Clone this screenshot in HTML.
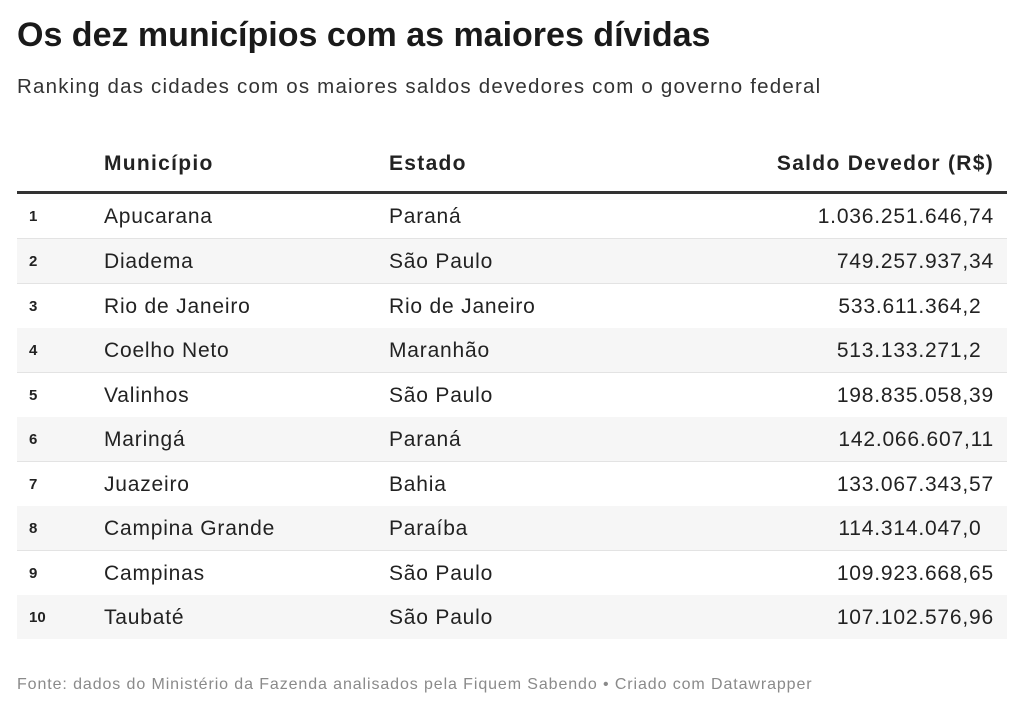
<!DOCTYPE html>
<html><head><meta charset="utf-8"><style>
body{margin:0;width:1024px;height:710px;background:#fff;font-family:"Liberation Sans",sans-serif;color:#222;position:relative;overflow:hidden}
.t{position:absolute;left:17px;top:16px;font-size:34px;font-weight:bold;color:#1a1a1a;letter-spacing:0px}
.s{position:absolute;left:17px;top:75px;font-size:20.5px;color:#333;letter-spacing:1.2px}
.hd{position:absolute;top:152px;font-size:21px;font-weight:bold;color:#222;letter-spacing:1.3px}
.line{position:absolute;left:17px;width:990px;top:191px;height:3px;background:#333}
.row{position:absolute;left:17px;width:990px;height:44px;border-bottom:1px solid #e3e3e3;font-size:21px;color:#222;letter-spacing:0.8px}
.row.g{background:#f6f6f6}
.row span{position:absolute;top:11px}
.n{left:12px;font-size:15px;font-weight:bold;top:14px!important;letter-spacing:0}
.m{left:87px}.e{left:372px}.v{right:13px}
.h{visibility:hidden}
.f{position:absolute;left:17px;top:676px;font-size:16px;color:#8a8a8a;letter-spacing:0.9px}
</style></head><body>
<div class="t">Os dez municípios com as maiores dívidas</div>
<div class="s">Ranking das cidades com os maiores saldos devedores com o governo federal</div>
<div class="hd" style="left:104px">Município</div>
<div class="hd" style="left:389px">Estado</div>
<div class="hd" style="right:30px">Saldo Devedor (R$)</div>
<div class="line"></div>
<div class="row" style="top:194px"><span class="n">1</span><span class="m">Apucarana</span><span class="e">Paraná</span><span class="v">1.036.251.646,74</span></div>
<div class="row g" style="top:239px"><span class="n">2</span><span class="m">Diadema</span><span class="e">São Paulo</span><span class="v">749.257.937,34</span></div>
<div class="row" style="top:284px"><span class="n">3</span><span class="m">Rio de Janeiro</span><span class="e">Rio de Janeiro</span><span class="v">533.611.364,2<i class="h">0</i></span></div>
<div class="row g" style="top:328px"><span class="n">4</span><span class="m">Coelho Neto</span><span class="e">Maranhão</span><span class="v">513.133.271,2<i class="h">0</i></span></div>
<div class="row" style="top:373px"><span class="n">5</span><span class="m">Valinhos</span><span class="e">São Paulo</span><span class="v">198.835.058,39</span></div>
<div class="row g" style="top:417px"><span class="n">6</span><span class="m">Maringá</span><span class="e">Paraná</span><span class="v">142.066.607,11</span></div>
<div class="row" style="top:462px"><span class="n">7</span><span class="m">Juazeiro</span><span class="e">Bahia</span><span class="v">133.067.343,57</span></div>
<div class="row g" style="top:506px"><span class="n">8</span><span class="m">Campina Grande</span><span class="e">Paraíba</span><span class="v">114.314.047,0<i class="h">0</i></span></div>
<div class="row" style="top:551px"><span class="n">9</span><span class="m">Campinas</span><span class="e">São Paulo</span><span class="v">109.923.668,65</span></div>
<div class="row g" style="top:595px;border-bottom:none"><span class="n">10</span><span class="m">Taubaté</span><span class="e">São Paulo</span><span class="v">107.102.576,96</span></div>
<div class="f">Fonte: dados do Ministério da Fazenda analisados pela Fiquem Sabendo • Criado com Datawrapper</div>
</body></html>
